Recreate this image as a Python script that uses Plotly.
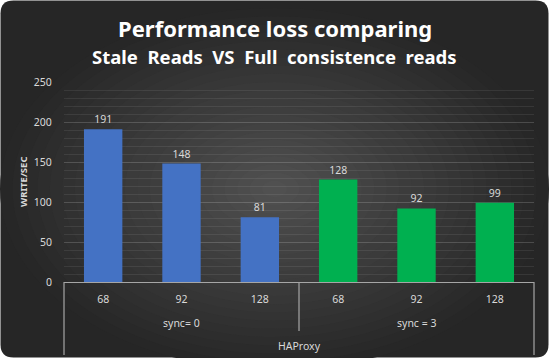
import plotly.graph_objects as go

# ---- data ----
threads = ["68", "92", "128", "68", "92", "128"]
groups = ["sync= 0", "sync = 3"]
group_of_bar = [0, 0, 0, 1, 1, 1]
values = [191, 148, 81, 128, 92, 99]
bar_colors = ["#4472C4", "#4472C4", "#4472C4", "#00B050", "#00B050", "#00B050"]
outer_label = "HAProxy"
y_title = "WRITE/SEC"
title1 = "Performance loss comparing"
title2 = "Stale  Reads  VS  Full  consistence  reads"

W, H = 549, 358
L, R, T, B = 64, 534, 82, 282  # plot area in px


def px(x):
    return (x - L) / (R - L)


def py(y):
    return (B - y) / (B - T)


FONT = "Noto Sans"
TXT = "#d9d9d9"

xs = list(range(len(values)))
fig = go.Figure()
fig.add_trace(go.Bar(
    x=xs, y=values, marker=dict(color=bar_colors, line=dict(width=0)),
    width=0.49, text=[str(v) for v in values], textposition="outside",
    textfont=dict(color=TXT, size=10.5, family=FONT), cliponaxis=False,
    hoverinfo="skip",
))

shapes = []
# rounded background
r = 13
x0, y0, x1, y1 = 0.5, 0.5, W - 0.5, H - 0.5


def P(x, y):
    return f"{px(x):.5f},{py(y):.5f}"


path = (f"M {P(x0 + r, y0)} L {P(x1 - r, y0)} Q {P(x1, y0)} {P(x1, y0 + r)} "
        f"L {P(x1, y1 - r)} Q {P(x1, y1)} {P(x1 - r, y1)} L {P(x0 + r, y1)} "
        f"Q {P(x0, y1)} {P(x0, y1 - r)} L {P(x0, y0 + r)} Q {P(x0, y0)} {P(x0 + r, y0)} Z")
shapes.append(dict(type="path", xref="paper", yref="paper", path=path,
                   fillcolor="#262626", line=dict(width=0), layer="below"))
# radial gradient approximation
cx, cy = W / 2, H / 2 + 10
N = 22
for i in range(N):
    f = 1 - i / N
    rx, ry = (W / 2) * f, (H / 2 + 2) * f
    c = int(38 + (80 - 38) * (i + 1) / N)
    shapes.append(dict(type="circle", xref="paper", yref="paper",
                       x0=px(cx - rx), x1=px(cx + rx), y0=py(cy + ry), y1=py(cy - ry),
                       fillcolor=f"rgb({c},{c},{c})", line=dict(width=0), layer="below"))
# multi-level axis lines
LC = "#a6a6a6"
for (xa, yb) in [(L, 355), (R, 355), ((L + R) / 2, 331)]:
    shapes.append(dict(type="line", xref="paper", yref="paper",
                       x0=px(xa), x1=px(xa), y0=py(B), y1=py(yb),
                       line=dict(color=LC, width=1.2)))

annotations = []
for gi, g in enumerate(groups):
    idx = [i for i, gg in enumerate(group_of_bar) if gg == gi]
    annotations.append(dict(x=sum(idx) / len(idx), xref="x", y=py(322.5), yref="paper",
                            xanchor="center", yanchor="middle",
                            text=g, showarrow=False, font=dict(color=TXT, size=10.5, family=FONT)))
annotations.append(dict(x=0.5, xref="paper", y=py(346), yref="paper", text=outer_label,
                        xanchor="center", yanchor="middle",
                        showarrow=False, font=dict(color=TXT, size=10.5, family=FONT)))
annotations.append(dict(x=px(23), xref="paper", y=py(182), yref="paper", text=f"<b>{y_title}</b>",
                        xanchor="center", yanchor="middle",
                        textangle=-90, showarrow=False, font=dict(color=TXT, size=9.5, family=FONT)))
for t, yy, sz in [(title1, 28, 22), (title2, 56, 18.5)]:
    annotations.append(dict(x=px(W / 2), xref="paper", y=py(yy), yref="paper",
                            xanchor="center", yanchor="middle",
                            text=f"<b>{t}</b>", showarrow=False,
                            font=dict(color="#ffffff", size=sz, family=FONT)))

fig.update_layout(
    width=W, height=H,
    margin=dict(l=L, r=W - R, t=T, b=H - B, pad=0),
    paper_bgcolor="#ffffff", plot_bgcolor="rgba(0,0,0,0)",
    showlegend=False, bargap=0.51,
    shapes=shapes, annotations=annotations,
    xaxis=dict(range=[-0.5, len(values) - 0.5], tickvals=xs, ticktext=threads,
               showgrid=False, zeroline=False, showline=True, linecolor=LC, linewidth=1.2,
               ticks="outside", ticklen=7, tickcolor="rgba(0,0,0,0)",
               tickfont=dict(color=TXT, size=10.5, family=FONT), fixedrange=True),
    yaxis=dict(range=[0, 250], dtick=50, showgrid=True, gridcolor="rgba(255,255,255,0.17)",
               gridwidth=1, zeroline=False, showline=False,
               minor=dict(dtick=10, showgrid=True, gridcolor="rgba(255,255,255,0.08)", gridwidth=1),
               ticks="outside", ticklen=9, tickcolor="rgba(0,0,0,0)",
               tickfont=dict(color=TXT, size=10.5, family=FONT), fixedrange=True),
)

fig.write_html("out.html", post_script="document.body.style.margin='0';",
               config={"displayModeBar": False})
